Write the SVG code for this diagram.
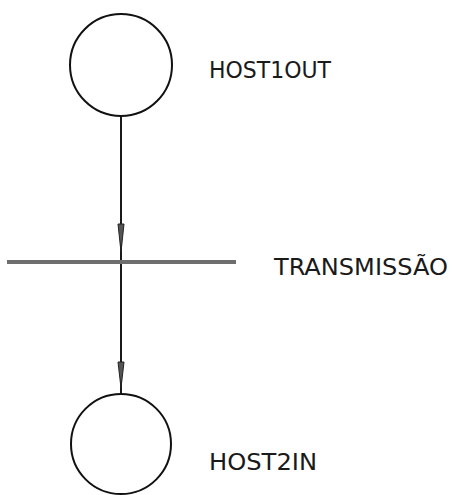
<svg xmlns="http://www.w3.org/2000/svg" width="455" height="495" viewBox="0 0 455 495">
  <style>
    .place { fill: #ffffff; stroke: #111111; stroke-width: 2; }
    .arc { stroke: #1a1a1a; stroke-width: 2; fill: none; }
    .head { fill: #555555; stroke: #222222; stroke-width: 1; }
    .trans { stroke: #6e6e6e; stroke-width: 4; }
    .label { font-family: "DejaVu Sans Condensed", "DejaVu Sans", sans-serif; font-stretch: condensed; font-size: 23px; fill: #1a1a1a; }
  </style>
  <rect width="455" height="495" fill="#ffffff"/>

  <!-- arcs between places, with their arrowheads -->
  <g id="connectors">
    <line class="arc" x1="121" y1="116" x2="121" y2="394"/>
    <polygon class="head" points="118,224 124,224 121,252"/>
    <polygon class="head" points="118,362 124,362 121,388"/>
  </g>

  <!-- transition bar -->
  <g id="transmissao">
    <line class="trans" x1="7" y1="262" x2="236" y2="262"/>
    <text class="label" x="274" y="275" textLength="174" lengthAdjust="spacingAndGlyphs">TRANSMISSÃO</text>
  </g>

  <g id="host1out">
    <circle class="place" cx="121" cy="65" r="51"/>
    <text class="label" x="209" y="78" textLength="122" lengthAdjust="spacingAndGlyphs">HOST1OUT</text>
  </g>

  <g id="host2in">
    <circle class="place" cx="121" cy="444" r="50"/>
    <text class="label" x="209" y="470" textLength="108" lengthAdjust="spacingAndGlyphs">HOST2IN</text>
  </g>
</svg>
